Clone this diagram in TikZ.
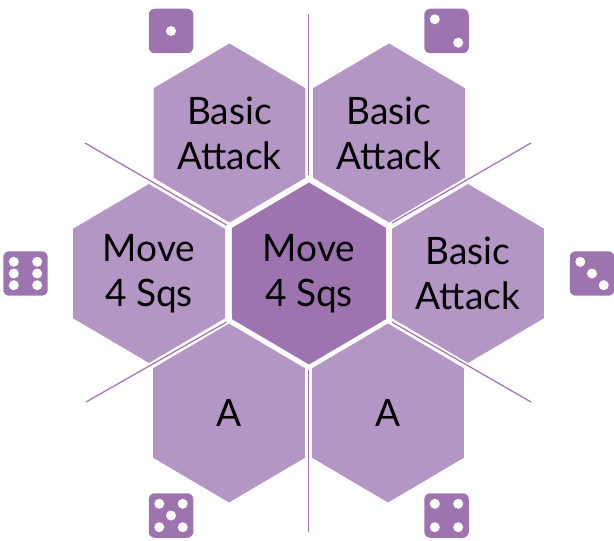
\documentclass[tikz,border=0pt]{standalone}
\usepackage{fontspec}
\setmainfont{Lato}
\usetikzlibrary{shapes.geometric,positioning,calc}
\definecolor{hexlight}{HTML}{B496C5}
\definecolor{hexdark}{HTML}{9E74B0}
\tikzset{
  hexcell/.style={regular polygon, regular polygon sides=6, shape border rotate=30, fill=hexlight, minimum size=3.58cm, inner sep=0pt, outer sep=0pt, xscale=0.98, transform shape, align=center, text=black, font=\fontsize{21.5}{25.6}\selectfont},
  divider/.style={draw=hexdark, line width=0.7pt},
  diebox/.style={rectangle, rounded corners=1.2mm, fill=hexdark, minimum size=0.89cm, inner sep=0pt},
  pip/.style={circle, fill=white, minimum size=0.2cm, inner sep=0pt}
}
\begin{document}
\begin{tikzpicture}[x=0.02cm,y=-0.02cm]
\useasboundingbox (0,0) rectangle (614,540);
% hexagons
\node[hexcell] (topleft) at (229.5,133) {Basic\\Attack};
\node[hexcell] (topright) at (389,133) {Basic\\Attack};
\node[hexcell] (midleft) at (149,273.5) {Move\\4 Sqs};
\node[hexcell, fill=hexdark, minimum size=3.64cm] (mid) at (309,273.5) {Move\\4 Sqs};
\node[hexcell] (midright) at (468,273.5) {Basic\\Attack};
\node[hexcell] (botleft) at (229,413) {A};
\node[hexcell] (botright) at (388,413) {A};
% dividing lines
\coordinate (ntop) at (308.5,14);
\coordinate (ntopin) at (308.5,175);
\coordinate (nbot) at (308.5,532);
\coordinate (nbotin) at (308.5,370);
\coordinate (ul) at (85,143);
\coordinate (ulin) at (226.5,225);
\coordinate (ur) at (531,143);
\coordinate (urin) at (392,223);
\coordinate (ll) at (86,402);
\coordinate (llin) at (226.5,322);
\coordinate (lr) at (531,402);
\coordinate (lrin) at (392,322);
\draw[divider] (ntop) -- (ntopin);
\draw[divider] (nbot) -- (nbotin);
\draw[divider] (ul) -- (ulin);
\draw[divider] (ur) -- (urin);
\draw[divider] (ll) -- (llin);
\draw[divider] (lr) -- (lrin);
% dice
\node[diebox] (dieone) at (171,31) {};
\node[pip] at (dieone) {};
\node[diebox] (dietwo) at (446.5,31) {};
\foreach \dx/\dy in {-11.7/-11.7, 11.7/11.7}
  \node[pip] at ([shift={(\dx,\dy)}]dietwo) {};
\node[diebox] (diethree) at (592,273.5) {};
\foreach \dx/\dy in {-11.7/-11.7, 0/0, 11.7/11.7}
  \node[pip] at ([shift={(\dx,\dy)}]diethree) {};
\node[diebox] (diefour) at (446.5,515.5) {};
\foreach \dx/\dy in {-11.7/-11.7, 11.7/-11.7, -11.7/11.7, 11.7/11.7}
  \node[pip] at ([shift={(\dx,\dy)}]diefour) {};
\node[diebox] (diefive) at (171,515.5) {};
\foreach \dx/\dy in {-11.7/-11.7, 11.7/-11.7, 0/0, -11.7/11.7, 11.7/11.7}
  \node[pip] at ([shift={(\dx,\dy)}]diefive) {};
\node[diebox] (diesix) at (25.5,273.5) {};
\foreach \dx/\dy in {-11.7/-11.7, 11.7/-11.7, -11.7/0, 11.7/0, -11.7/11.7, 11.7/11.7}
  \node[pip] at ([shift={(\dx,\dy)}]diesix) {};
\end{tikzpicture}
\end{document}
